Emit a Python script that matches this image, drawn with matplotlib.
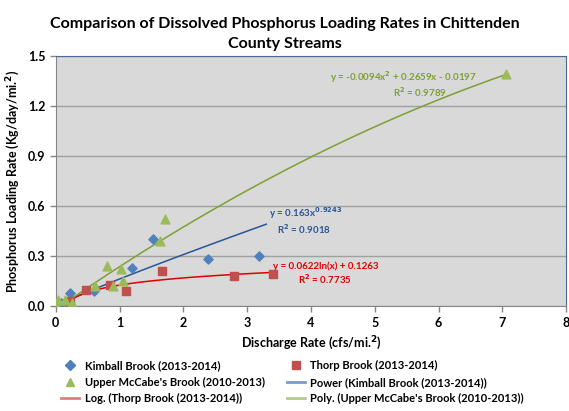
import numpy as np
import matplotlib
matplotlib.use("Agg")
from matplotlib import pyplot as plt
from matplotlib.lines import Line2D

plt.rcParams['font.family'] = ['Lato', 'DejaVu Sans']
plt.rcParams['font.weight'] = 'bold'

# data
kimball_x = [0.08, 0.23, 0.60, 1.19, 1.53, 2.39, 3.19]
kimball_y = [0.02, 0.08, 0.09, 0.23, 0.40, 0.28, 0.30]
thorp_x = [0.22, 0.47, 0.85, 1.10, 1.67, 2.80, 3.40]
thorp_y = [0.03, 0.10, 0.13, 0.09, 0.21, 0.18, 0.19]
mccabe_x = [0.01, 0.04, 0.14, 0.26, 0.61, 0.81, 0.89, 1.03, 1.05, 1.63, 1.72, 7.06]
mccabe_y = [0.01, 0.04, 0.04, 0.02, 0.12, 0.24, 0.12, 0.22, 0.15, 0.39, 0.52, 1.39]

# trendline coefficients shown on the chart
power_a, power_b = 0.163, 0.9243
log_a, log_b = 0.0622, 0.1263
poly_c = [-0.0094, 0.2659, -0.0197]

blue = '#4F81BD'
red = '#C0504D'
green = '#9BBB59'
power_col = '#2A5599'
log_col = '#E00000'
poly_col = '#7F9F32'

fig = plt.figure(figsize=(5.69, 4.11), dpi=100)
ax = fig.add_axes([0.098, 0.255, 0.897, 0.609])
ax.set_facecolor('#D9D9D9')

xp = np.linspace(0.05, 3.3, 100)
ax.plot(xp, power_a * xp ** power_b, color=power_col, lw=1.1, zorder=3)
xl = np.linspace(0.15, 3.4, 100)
ax.plot(xl, log_a * np.log(xl) + log_b, color=log_col, lw=1.1, zorder=3)
xq = np.linspace(0.0, 7.06, 100)
ax.plot(xq, np.polyval(poly_c, xq), color=poly_col, lw=1.1, zorder=3)

ax.scatter(kimball_x, kimball_y, marker='D', s=22, color=blue, zorder=4)
ax.scatter(thorp_x, thorp_y, marker='s', s=32, color=red, zorder=4)
ax.scatter(mccabe_x, mccabe_y, marker='^', s=40, color=green, zorder=4)

ax.set_xlim(0, 8)
ax.set_ylim(0, 1.5)
ax.set_xticks(range(0, 9))
ax.set_yticks([0.0, 0.3, 0.6, 0.9, 1.2, 1.5])
ax.set_yticklabels(['0.0', '0.3', '0.6', '0.9', '1.2', '1.5'])
ax.tick_params(labelsize=9, length=4, color='#868686', width=1)
ax.grid(axis='y', color='#A0A0A0', lw=1)
ax.set_axisbelow(True)
for s in ['left', 'bottom']:
    ax.spines[s].set_color('#868686')
for s in ['top', 'right']:
    ax.spines[s].set_color('#4A6A9A')

ax.set_xlabel('Discharge Rate (cfs/mi.$^2$)', fontsize=9, fontweight='bold', labelpad=4)
ax.set_ylabel('Phosphorus Loading Rate (Kg/day/mi.$^2$)', fontsize=9, fontweight='bold')

fig.text(0.5, 0.958, 'Comparison of Dissolved Phosphorus Loading Rates in Chittenden\nCounty Streams',
         ha='center', va='top', fontsize=11.5, fontweight='bold', linespacing=1.5)

ax.text(6.6, 1.375, 'y = -0.0094x$^2$ + 0.2659x - 0.0197', color=poly_col, fontsize=7, ha='right', va='center')
ax.text(6.13, 1.285, 'R$^2$ = 0.9789', color=poly_col, fontsize=7, ha='right', va='center')
ax.text(3.34, 0.555, 'y = 0.163x$^{0.9243}$', color=power_col, fontsize=7, ha='left', va='center')
ax.text(3.47, 0.465, 'R$^2$ = 0.9018', color=power_col, fontsize=7, ha='left', va='center')
ax.text(3.40, 0.24, 'y = 0.0622ln(x) + 0.1263', color=log_col, fontsize=7, ha='left', va='center')
ax.text(3.80, 0.16, 'R$^2$ = 0.7735', color=log_col, fontsize=7, ha='left', va='center')

handles = [
    Line2D([], [], ls='none', marker='D', ms=5, color=blue),
    Line2D([], [], ls='none', marker='^', ms=6, color=green),
    Line2D([], [], color='#E77B7B', lw=2),
    Line2D([], [], ls='none', marker='s', ms=6, color=red),
    Line2D([], [], color='#7C9BC8', lw=2),
    Line2D([], [], color='#B6C98F', lw=2),
]
labels = [
    'Kimball Brook (2013-2014)',
    "Upper McCabe's Brook (2010-2013)",
    'Log. (Thorp Brook (2013-2014))',
    'Thorp Brook (2013-2014)',
    'Power (Kimball Brook (2013-2014))',
    "Poly. (Upper McCabe's Brook (2010-2013))",
]
fig.legend(handles, labels, ncol=2, loc='upper left', bbox_to_anchor=(0.09, 0.148),
           frameon=False, handlelength=1.6, handletextpad=0.5,
           columnspacing=2.0, labelspacing=0.5, prop={'weight': 'bold', 'size': 8})

fig.savefig('out.png', dpi=100)
